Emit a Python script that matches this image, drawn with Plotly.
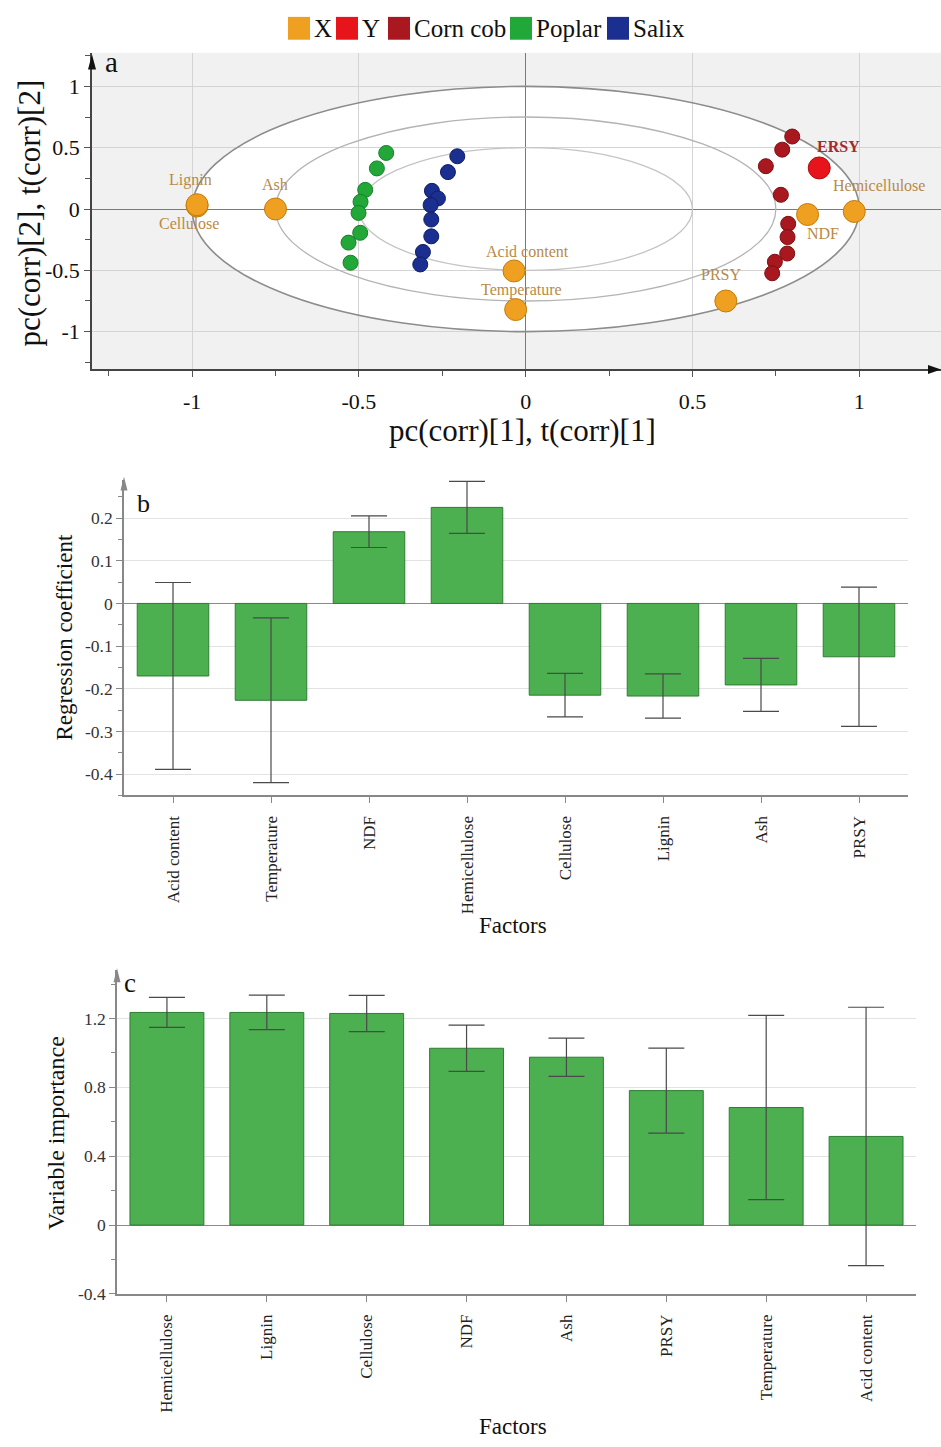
import numpy as np
import plotly.graph_objects as go

W, H = 941, 1447
SERIF = "Liberation Serif, Times New Roman, serif"

# ---------------- panel a: PLS correlation loadings / scores ----------------
x_vars = ["Acid content", "Temperature", "NDF", "Hemicellulose",
          "Cellulose", "Lignin", "Ash", "PRSY"]
x_pc1 = [-0.035, -0.03, 0.845, 0.985, -0.985, -0.985, -0.75, 0.60]
x_pc2 = [-0.505, -0.82, -0.045, -0.02, 0.025, 0.035, 0.0, -0.75]

y_vars = ["ERSY"]
y_pc1 = [0.88]
y_pc2 = [0.335]

corncob_pc1 = [0.799, 0.769, 0.720, 0.765, 0.787, 0.785, 0.784, 0.747, 0.739]
corncob_pc2 = [0.591, 0.484, 0.349, 0.116, -0.121, -0.229, -0.363, -0.430, -0.524]

poplar_pc1 = [-0.418, -0.446, -0.481, -0.495, -0.501, -0.496, -0.531, -0.525]
poplar_pc2 = [0.457, 0.331, 0.156, 0.059, -0.032, -0.194, -0.274, -0.438]

salix_pc1 = [-0.205, -0.233, -0.281, -0.263, -0.285, -0.283, -0.283, -0.308, -0.316]
salix_pc2 = [0.430, 0.301, 0.148, 0.086, 0.032, -0.086, -0.223, -0.350, -0.452]

ellipse_radii = [1.0, 0.75, 0.5]

group_names = ["X", "Y", "Corn cob", "Poplar", "Salix"]
group_colors = ["#f0a020", "#e8141c", "#a8181e", "#22a838", "#1a2f8f"]
group_edges = ["#c27c0e", "#b00d12", "#7a1015", "#17802a", "#101f66"]

a_ticks = [-1, -0.5, 0, 0.5, 1]
a_ticktext = ["-1", "-0.5", "0", "0.5", "1"]

# ---------------- panel b: regression coefficients ----------------
factors_b = ["Acid content", "Temperature", "NDF", "Hemicellulose",
             "Cellulose", "Lignin", "Ash", "PRSY"]
coef = [-0.170, -0.227, 0.168, 0.225, -0.215, -0.217, -0.191, -0.125]
coef_err = [0.219, 0.193, 0.037, 0.061, 0.051, 0.052, 0.062, 0.163]
b_ticks = [-0.4, -0.3, -0.2, -0.1, 0, 0.1, 0.2]
b_ticktext = ["-0.4", "-0.3", "-0.2", "-0.1", "0", "0.1", "0.2"]

# ---------------- panel c: variable importance (VIP) ----------------
factors_c = ["Hemicellulose", "Lignin", "Cellulose", "NDF", "Ash",
             "PRSY", "Temperature", "Acid content"]
vip = [1.235, 1.235, 1.229, 1.027, 0.975, 0.781, 0.683, 0.515]
vip_err = [0.087, 0.100, 0.105, 0.134, 0.111, 0.247, 0.535, 0.750]
c_ticks = [-0.4, 0, 0.4, 0.8, 1.2]
c_ticktext = ["-0.4", "0", "0.4", "0.8", "1.2"]


def px(x):
    return x / W


def py(y):
    return 1 - y / H


fig = go.Figure()

# ---- panel a markers ----
def add_group(xs, ys, idx, size, names=None):
    fig.add_trace(go.Scatter(
        x=xs, y=ys, mode="markers", name=group_names[idx], text=names,
        marker=dict(size=size, color=group_colors[idx],
                    line=dict(color=group_edges[idx], width=1)),
        xaxis="x", yaxis="y", showlegend=False))


add_group(corncob_pc1, corncob_pc2, 2, 15)
add_group(poplar_pc1, poplar_pc2, 3, 15)
add_group(salix_pc1, salix_pc2, 4, 15)
add_group(x_pc1, x_pc2, 0, 22, x_vars)
add_group(y_pc1, y_pc2, 1, 22, y_vars)

# label offsets (pixels) for the variable names
label_shift = {
    "Acid content": (13, 19), "Temperature": (6, 20), "NDF": (15, -19),
    "Hemicellulose": (25, 26), "Cellulose": (-8, -18), "Lignin": (-7, 25),
    "Ash": (0, 25), "PRSY": (-5, 26),
}
annotations = []
for name, xv, yv in zip(x_vars, x_pc1, x_pc2):
    dx, dy = label_shift[name]
    annotations.append(dict(x=xv, y=yv, xref="x", yref="y", text=name,
                            showarrow=False, xshift=dx, yshift=dy,
                            font=dict(family=SERIF, size=16, color="#b98a45")))
for name, xv, yv in zip(y_vars, y_pc1, y_pc2):
    annotations.append(dict(x=xv, y=yv, xref="x", yref="y", text="<b>%s</b>" % name,
                            showarrow=False, xshift=19, yshift=21,
                            font=dict(family=SERIF, size=16, color="#a52a2a")))

# ---- panel b bars ----
bar_marker = dict(color="#4caf50", line=dict(color="#2e7d32", width=1))
err_style = dict(type="data", visible=True, color="#4a4a4a", thickness=1.2, width=18)

fig.add_trace(go.Bar(x=factors_b, y=coef, width=0.73, marker=bar_marker,
                     error_y=dict(array=coef_err, **err_style),
                     xaxis="x2", yaxis="y2", showlegend=False))

# ---- panel c bars ----
fig.add_trace(go.Bar(x=factors_c, y=vip, width=0.74, marker=bar_marker,
                     error_y=dict(array=vip_err, **err_style),
                     xaxis="x3", yaxis="y3", showlegend=False))

# ---- shapes ----
shapes = []
# panel a grey background and white unit-circle interior
shapes.append(dict(type="rect", xref="x domain", yref="y domain", x0=0, x1=1, y0=0, y1=1,
                   fillcolor="#f1f1f1", line=dict(width=0), layer="below"))
shapes.append(dict(type="circle", xref="x", yref="y",
                   x0=-ellipse_radii[0], x1=ellipse_radii[0],
                   y0=-ellipse_radii[0], y1=ellipse_radii[0],
                   fillcolor="white", line=dict(width=0), layer="below"))
ring_colors = ["#8c8c8c", "#b4b4b4", "#c4c4c4"]
ring_widths = [1.6, 1.3, 1.3]
for r, col, wd in zip(ellipse_radii, ring_colors, ring_widths):
    shapes.append(dict(type="circle", xref="x", yref="y", x0=-r, x1=r, y0=-r, y1=r,
                       line=dict(color=col, width=wd), layer="between"))


def tri(points, color):
    path = "M " + " L ".join("%.5f,%.5f" % (px(a), py(b)) for a, b in points) + " Z"
    return dict(type="path", xref="paper", yref="paper", path=path,
                fillcolor=color, line=dict(width=0))


# axis arrow heads
shapes.append(tri([(88, 70), (96, 70), (92, 55)], "#111"))
shapes.append(tri([(928, 367.5), (928, 376.5), (941, 372)], "#111"))
shapes.append(tri([(120.5, 494), (127.5, 494), (124, 480)], "#888"))
shapes.append(tri([(113.5, 989), (120.5, 989), (117, 975)], "#888"))

# legend swatches
legend_x = [288, 336, 388, 510, 607]
for name, col, lx in zip(group_names, group_colors, legend_x):
    shapes.append(dict(type="rect", xref="paper", yref="paper",
                       x0=px(lx), x1=px(lx + 22), y0=py(40), y1=py(17),
                       fillcolor=col, line=dict(width=0)))
    annotations.append(dict(x=px(lx + 24), y=py(28.5), xref="paper", yref="paper",
                            text=name, showarrow=False, xanchor="left", yanchor="middle",
                            font=dict(family=SERIF, size=25, color="#111")))

# panel letters and axis titles
def note(x, y, text, size, angle=0, color="#111"):
    annotations.append(dict(x=px(x), y=py(y), xref="paper", yref="paper", text=text,
                            showarrow=False, textangle=angle, xanchor="center",
                            yanchor="middle", font=dict(family=SERIF, size=size, color=color)))


note(111, 62, "a", 29)
note(143, 507, "b", 26)
note(130, 990, "c", 27)
note(522, 433, "pc(corr)[1], t(corr)[1]", 31)
note(30, 215, "pc(corr)[2], t(corr)[2]", 31, angle=-90)
note(65, 642, "Regression coefficient", 23, angle=-90)
note(56, 1141, "Variable importance", 24, angle=-90)
note(513, 932, "Factors", 23)
note(513, 1436, "Factors", 23)

tick_font_a = dict(family=SERIF, size=22, color="#111")
tick_font_y_bc = dict(family=SERIF, size=17.5, color="#333")
tick_font_x_bc = dict(family=SERIF, size=17, color="#222")

fig.update_layout(
    width=W, height=H, margin=dict(l=0, r=0, t=0, b=0),
    paper_bgcolor="white", plot_bgcolor="white",
    shapes=shapes, annotations=annotations, bargap=0.26,
    xaxis=dict(domain=[px(92), 1.0], anchor="y", range=[-1.3, 1.245],
               tickmode="array", tickvals=a_ticks, ticktext=a_ticktext,
               tickfont=tick_font_a, ticks="outside", ticklen=6, tickcolor="#555",
               ticklabelstandoff=5,
               minor=dict(tickmode="array", tickvals=list(np.arange(-1.25, 1.3, 0.25)),
                          ticks="outside", ticklen=5, tickcolor="#555", showgrid=False),
               showgrid=True, gridcolor="#d4d4d4", gridwidth=1,
               zeroline=True, zerolinecolor="#7a7a7a", zerolinewidth=1.3,
               showline=True, linecolor="#444", linewidth=1.5),
    yaxis=dict(domain=[py(372), py(53)], anchor="x", range=[-1.308, 1.275],
               tickmode="array", tickvals=a_ticks, ticktext=a_ticktext,
               tickfont=tick_font_a, ticks="outside", ticklen=6, tickcolor="#555",
               minor=dict(tickmode="array", tickvals=list(np.arange(-1.25, 1.3, 0.25)),
                          ticks="outside", ticklen=5, tickcolor="#555", showgrid=False),
               showgrid=True, gridcolor="#d4d4d4", gridwidth=1,
               zeroline=True, zerolinecolor="#7a7a7a", zerolinewidth=1.3,
               showline=True, linecolor="#444", linewidth=1.5),
    xaxis2=dict(domain=[px(124), px(908)], anchor="y2", type="category",
                categoryorder="array", categoryarray=factors_b, range=[-0.5, 7.5],
                tickangle=-90, tickfont=tick_font_x_bc, ticks="outside", ticklen=6,
                tickcolor="#888", ticklabelstandoff=6, showgrid=False,
                showline=True, linecolor="#888", linewidth=1.5),
    yaxis2=dict(domain=[py(801), py(483)], anchor="x2", range=[-0.45, 0.29],
                tickmode="array", tickvals=b_ticks, ticktext=b_ticktext,
                tickfont=tick_font_y_bc, ticks="outside", ticklen=6, tickcolor="#888",
                minor=dict(tickmode="array", tickvals=list(np.arange(-0.45, 0.3, 0.05)),
                           ticks="outside", ticklen=4, tickcolor="#888", showgrid=False),
                showgrid=True, gridcolor="#e3e3e3", gridwidth=1,
                zeroline=True, zerolinecolor="#8a8a8a", zerolinewidth=1.3,
                showline=True, linecolor="#888", linewidth=1.5),
    xaxis3=dict(domain=[px(117), px(916)], anchor="y3", type="category",
                categoryorder="array", categoryarray=factors_c, range=[-0.5, 7.5],
                tickangle=-90, tickfont=tick_font_x_bc, ticks="outside", ticklen=6,
                tickcolor="#888", ticklabelstandoff=6, showgrid=False,
                showline=True, linecolor="#888", linewidth=1.5),
    yaxis3=dict(domain=[py(1303), py(977)], anchor="x3", range=[-0.4, 1.48],
                tickmode="array", tickvals=c_ticks, ticktext=c_ticktext,
                tickfont=tick_font_y_bc, ticks="outside", ticklen=6, tickcolor="#888",
                minor=dict(tickmode="array", tickvals=list(np.arange(-0.4, 1.5, 0.2)),
                           ticks="outside", ticklen=4, tickcolor="#888", showgrid=False),
                showgrid=True, gridcolor="#e3e3e3", gridwidth=1,
                zeroline=True, zerolinecolor="#8a8a8a", zerolinewidth=1.3,
                showline=True, linecolor="#888", linewidth=1.5),
)

fig.write_html("out.html")
